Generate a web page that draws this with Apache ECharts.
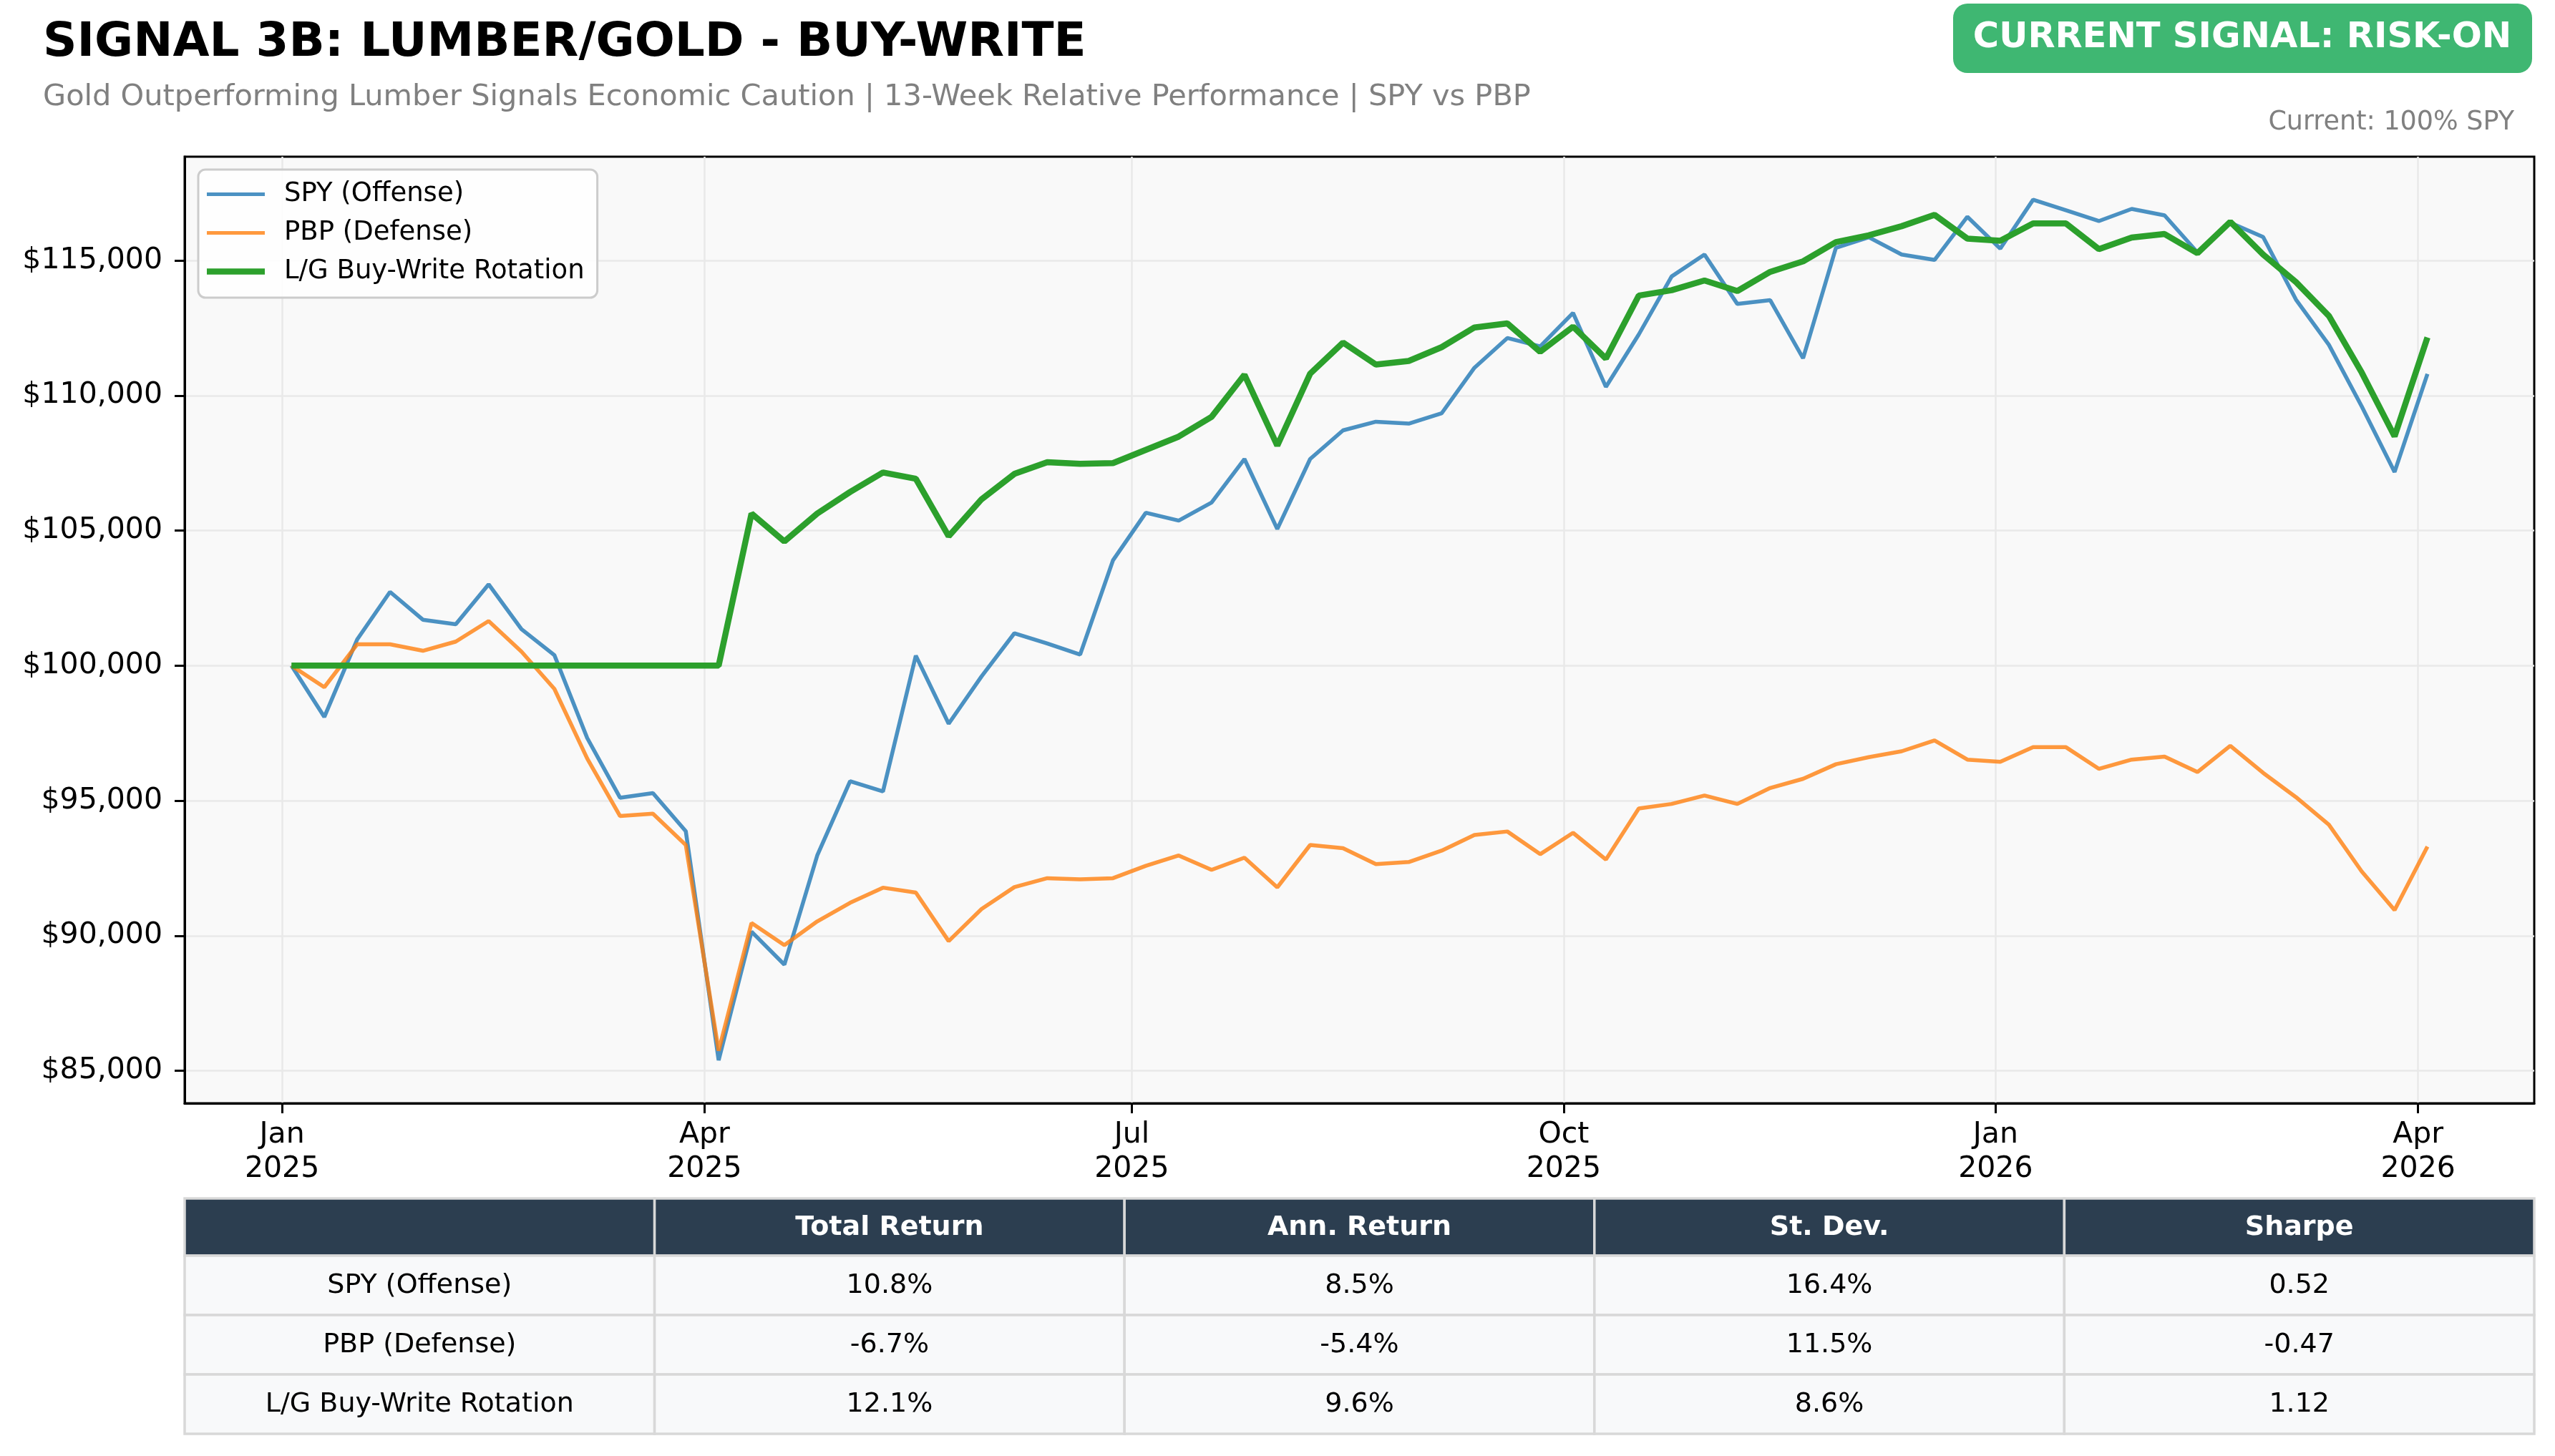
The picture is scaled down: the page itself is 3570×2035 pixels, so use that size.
<!DOCTYPE html>
<html>
<head>
<meta charset="utf-8">
<title>Signal 3B: Lumber/Gold - Buy-Write</title>
<script src="https://cdn.jsdelivr.net/npm/echarts@6.0.0/dist/echarts.min.js"></script>
<style>
  html, body { margin: 0; padding: 0; background: #ffffff; }
  #chart { width: 3570px; height: 2035px; }
</style>
</head>
<body>
<div id="chart"></div>
<script>
"use strict";

// weekly closes (Fridays)
var dates = [
  '2025-01-03','2025-01-10','2025-01-17','2025-01-24','2025-01-31','2025-02-07','2025-02-14','2025-02-21','2025-02-28',
  '2025-03-07','2025-03-14','2025-03-21','2025-03-28','2025-04-04','2025-04-11','2025-04-18','2025-04-25',
  '2025-05-02','2025-05-09','2025-05-16','2025-05-23','2025-05-30','2025-06-06','2025-06-13','2025-06-20','2025-06-27',
  '2025-07-04','2025-07-11','2025-07-18','2025-07-25','2025-08-01','2025-08-08','2025-08-15','2025-08-22','2025-08-29',
  '2025-09-05','2025-09-12','2025-09-19','2025-09-26','2025-10-03','2025-10-10','2025-10-17','2025-10-24','2025-10-31',
  '2025-11-07','2025-11-14','2025-11-21','2025-11-28','2025-12-05','2025-12-12','2025-12-19','2025-12-26',
  '2026-01-02','2026-01-09','2026-01-16','2026-01-23','2026-01-30','2026-02-06','2026-02-13','2026-02-20','2026-02-27',
  '2026-03-06','2026-03-13','2026-03-20','2026-03-27','2026-04-03'
];

var spyValues = [
  100000, 98100, 100970, 102730, 101700, 101530, 103010, 101350, 100390,
  97320, 95110, 95280, 93870, 85390, 90150, 88930, 92970,
  95720, 95340, 100370, 97850, 99600, 101200, 100820, 100410, 103900,
  105660, 105370, 106040, 107650, 105060, 107650, 108710, 109030, 108960,
  109340, 111030, 112130, 111820, 113060, 110320, 112260, 114410, 115220,
  113390, 113530, 111380, 115470, 115860, 115220, 115020, 116620,
  115440, 117250, 116860, 116460, 116910, 116670, 115300, 116400, 115870,
  113550, 111880, 109600, 107170, 110800
];

var pbpValues = [
  100000, 99200, 100790, 100790, 100550, 100890, 101650, 100520, 99140,
  96560, 94430, 94520, 93360, 85740, 90470, 89650, 90530,
  91220, 91780, 91600, 89800, 90990, 91800, 92130, 92090, 92130,
  92590, 92970, 92440, 92890, 91790, 93360, 93240, 92650, 92730,
  93150, 93730, 93860, 93020, 93810, 92820, 94710, 94880, 95190,
  94880, 95470, 95810, 96350, 96610, 96830, 97230, 96520,
  96440, 96980, 96980, 96180, 96520, 96630, 96060, 97030, 96030,
  95130, 94110, 92380, 90950, 93300
];

var rotationValues = [
  100000, 100000, 100000, 100000, 100000, 100000, 100000, 100000, 100000,
  100000, 100000, 100000, 100000, 100000, 105630, 104600, 105630,
  106430, 107150, 106920, 104790, 106160, 107100, 107530, 107470, 107500,
  107990, 108480, 109210, 110770, 108150, 110810, 111960, 111150, 111280,
  111790, 112520, 112670, 111620, 112550, 111370, 113700, 113900, 114260,
  113870, 114580, 114970, 115680, 115930, 116270, 116690, 115810,
  115730, 116370, 116370, 115420, 115850, 115980, 115270, 116430, 115220,
  114200, 112950, 110850, 108490, 112150
];

var seriesNames = ['SPY (Offense)', 'PBP (Defense)', 'L/G Buy-Write Rotation'];
var seriesColors = ['rgba(31,119,180,0.8)', 'rgba(255,127,14,0.8)', '#2ca02c'];

var xTickDates = ['2025-01-01', '2025-04-01', '2025-07-01', '2025-10-01', '2026-01-01', '2026-04-01'];
var xTickLabels = ['Jan\n2025', 'Apr\n2025', 'Jul\n2025', 'Oct\n2025', 'Jan\n2026', 'Apr\n2026'];
var yTicks = [85000, 90000, 95000, 100000, 105000, 110000, 115000];

var tableHeader = ['', 'Total Return', 'Ann. Return', 'St. Dev.', 'Sharpe'];
var tableRows = [
  ['SPY (Offense)', '10.8%', '8.5%', '16.4%', '0.52'],
  ['PBP (Defense)', '-6.7%', '-5.4%', '11.5%', '-0.47'],
  ['L/G Buy-Write Rotation', '12.1%', '9.6%', '8.6%', '1.12']
];

var FONT = '"DejaVu Sans", "Noto Sans", sans-serif';

function ts(s) {
  var p = s.split('-');
  return Date.UTC(+p[0], +p[1] - 1, +p[2]);
}

function pairs(vals) {
  return vals.map(function (v, i) { return [ts(dates[i]), v]; });
}

// axis ranges with 5% padding like matplotlib
var tFirst = ts(dates[0]), tLast = ts(dates[dates.length - 1]);
var tPad = (tLast - tFirst) * 0.05;
var allVals = spyValues.concat(pbpValues, rotationValues);
var vMin = Math.min.apply(null, allVals), vMax = Math.max.apply(null, allVals);
var vPad = (vMax - vMin) * 0.05;

var xTickTs = xTickDates.map(ts);

// layout
var gridLeft = 258, gridRight = 29, gridTop = 219, gridBottom = 493;
var W = 3570;
var tableLeft = gridLeft, tableWidth = W - gridLeft - gridRight;
var tableTop = 1675, headH = 80, rowH = 83;

function buildTable() {
  var els = [];
  var colW = tableWidth / tableHeader.length;
  var rows = [tableHeader].concat(tableRows);
  rows.forEach(function (row, r) {
    var y = r === 0 ? tableTop : tableTop + headH + (r - 1) * rowH;
    var h = r === 0 ? headH : rowH;
    row.forEach(function (txt, c) {
      var x = tableLeft + c * colW;
      els.push({
        type: 'rect',
        shape: { x: x, y: y, width: colW, height: h },
        style: { fill: r === 0 ? '#2c3e50' : '#f8f9fa', stroke: '#d8d8d8', lineWidth: 3.5 }
      });
      els.push({
        type: 'text',
        x: x + colW / 2,
        y: y + h / 2 + 1,
        style: {
          text: txt,
          fill: r === 0 ? '#ffffff' : '#000000',
          font: (r === 0 ? 'bold ' : '') + '38px ' + FONT,
          align: 'center',
          verticalAlign: 'middle'
        }
      });
    });
  });
  return els;
}

var graphics = [
  {
    type: 'text', x: 60, y: 61,
    style: { text: 'SIGNAL 3B: LUMBER/GOLD - BUY-WRITE', fill: '#000000',
      font: 'bold 66px ' + FONT, align: 'left', verticalAlign: 'middle' }
  },
  {
    type: 'text', x: 60, y: 136,
    style: { text: 'Gold Outperforming Lumber Signals Economic Caution | 13-Week Relative Performance | SPY vs PBP',
      fill: '#808080', font: '41.5px ' + FONT, align: 'left', verticalAlign: 'middle' }
  },
  {
    type: 'rect',
    shape: { x: 2729, y: 5, width: 809, height: 97, r: 20 },
    style: { fill: '#3fb772' }
  },
  {
    type: 'text', x: 3133, y: 53,
    style: { text: 'CURRENT SIGNAL: RISK-ON', fill: '#ffffff',
      font: 'bold 49.5px ' + FONT, align: 'center', verticalAlign: 'middle' }
  },
  {
    type: 'text', x: 3513, y: 172,
    style: { text: 'Current: 100% SPY', fill: '#808080',
      font: '36.5px ' + FONT, align: 'right', verticalAlign: 'middle' }
  }
].concat(buildTable());

var chart = echarts.init(document.getElementById('chart'), null, { renderer: 'canvas' });

var legendIcons = [
  'path://M0 0H81V5H0Z',
  'path://M0 0H81V5H0Z',
  'path://M0 0H81V8.5H0Z'
];

var option = {
  backgroundColor: '#ffffff',
  animation: false,
  textStyle: { fontFamily: FONT },
  grid: {
    left: gridLeft, right: gridRight, top: gridTop, bottom: gridBottom,
    show: true, backgroundColor: '#f9f9f9', borderColor: '#000000', borderWidth: 3
  },
  legend: {
    orient: 'vertical',
    left: 277, top: 237,
    data: seriesNames.map(function (n, i) {
      return { name: n, icon: legendIcons[i], itemStyle: { color: seriesColors[i] } };
    }),
    itemWidth: 81, itemHeight: 20, itemGap: 17,
    symbolKeepAspect: true,
    padding: [16, 18, 18, 12],
    backgroundColor: 'rgba(255,255,255,0.85)',
    borderColor: '#cccccc', borderWidth: 3, borderRadius: 10,
    textStyle: { fontSize: 37, color: '#000000', fontFamily: FONT, padding: [0, 0, 0, 22] }
  },
  xAxis: {
    type: 'value',
    scale: true,
    min: tFirst - tPad,
    max: tLast + tPad,
    axisLine: { show: true, lineStyle: { color: '#000000', width: 3 } },
    axisTick: { show: true, customValues: xTickTs, length: 14, lineStyle: { color: '#000000', width: 3 } },
    axisLabel: {
      customValues: xTickTs,
      margin: 20,
      fontSize: 41, lineHeight: 48, color: '#000000', fontFamily: FONT,
      formatter: function (v) {
        var best = 0;
        for (var i = 1; i < xTickTs.length; i++) {
          if (Math.abs(xTickTs[i] - v) < Math.abs(xTickTs[best] - v)) best = i;
        }
        return xTickLabels[best];
      }
    },
    splitLine: { show: true, lineStyle: { color: '#e9e9e9', width: 2.5 } }
  },
  yAxis: {
    type: 'value',
    scale: true,
    min: vMin - vPad,
    max: vMax + vPad,
    axisLine: { show: true, lineStyle: { color: '#000000', width: 3 } },
    axisTick: { show: true, customValues: yTicks, length: 14, lineStyle: { color: '#000000', width: 3 } },
    axisLabel: {
      customValues: yTicks,
      margin: 31,
      fontSize: 41, color: '#000000', fontFamily: FONT,
      formatter: function (v) { return '$' + Math.round(v).toLocaleString('en-US'); }
    },
    splitLine: { show: true, lineStyle: { color: '#e9e9e9', width: 2.5 } }
  },
  series: [
    {
      name: seriesNames[0], type: 'line', data: pairs(spyValues),
      symbol: 'none', color: seriesColors[0],
      lineStyle: { color: seriesColors[0], width: 5.5 }
    },
    {
      name: seriesNames[1], type: 'line', data: pairs(pbpValues),
      symbol: 'none', color: seriesColors[1],
      lineStyle: { color: seriesColors[1], width: 5.5 }
    },
    {
      name: seriesNames[2], type: 'line', data: pairs(rotationValues),
      symbol: 'none', color: seriesColors[2],
      lineStyle: { color: seriesColors[2], width: 8.5 }
    }
  ],
  graphic: graphics
};

chart.setOption(option);
</script>
</body>
</html>
